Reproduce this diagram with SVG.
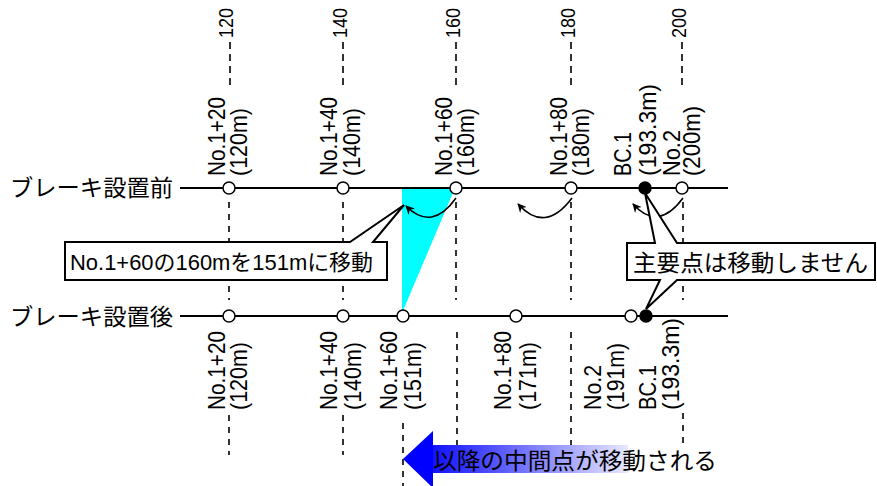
<svg xmlns="http://www.w3.org/2000/svg" width="877" height="486" viewBox="0 0 877 486">
<defs>
<style>
.ln{stroke:#000;stroke-width:2;fill:none}
.dash{stroke:#000;stroke-width:1.6;stroke-dasharray:7 5;fill:none}
.dm{stroke:#000;stroke-width:1.6;stroke-dasharray:6 6;fill:none}
.st{fill:#fff;stroke:#000;stroke-width:1.5}
.key{fill:#000;stroke:#000;stroke-width:1.5}
.rt{font-family:"Liberation Sans",sans-serif;font-size:24px;fill:#000}
.num{font-family:"Liberation Sans",sans-serif;font-size:21px;fill:#000}
.jp{font-family:"Liberation Sans","Noto Sans CJK JP",sans-serif;fill:#000}
.cv{stroke:#000;stroke-width:1.6;fill:none;marker-end:url(#ah)}
.co{fill:#fff;stroke:#000;stroke-width:2}
</style>
<marker id="ah" viewBox="0 0 10 10" refX="9" refY="5" markerWidth="9" markerHeight="9" markerUnits="userSpaceOnUse" orient="auto">
<path d="M0,0 L10,5 L0,10 L3,5 z" fill="#000"/>
</marker>
<linearGradient id="bg" x1="0" y1="0" x2="1" y2="0">
<stop offset="0" stop-color="#1010ff"/>
<stop offset="0.45" stop-color="#7070ff"/>
<stop offset="1" stop-color="#e8e8ff"/>
</linearGradient>
</defs>
<rect width="877" height="486" fill="#fff"/>

<polygon points="402,188 455,188 402,313" fill="#00ffff"/>

<g id="connectors">
<line class="ln" x1="180" y1="188" x2="728" y2="188"/>
<line class="ln" x1="180" y1="316" x2="728" y2="316"/>
<line class="dash" x1="230" y1="42" x2="230" y2="87"/>
<line class="dash" x1="343" y1="42" x2="343" y2="87"/>
<line class="dash" x1="456" y1="42" x2="456" y2="87"/>
<line class="dash" x1="571" y1="42" x2="571" y2="87"/>
<line class="dash" x1="682" y1="42" x2="682" y2="87"/>
<line class="dm" x1="229" y1="202" x2="229" y2="300"/>
<line class="dm" x1="343" y1="202" x2="343" y2="300"/>
<line class="dm" x1="456" y1="202" x2="456" y2="300"/>
<line class="dm" x1="571" y1="202" x2="571" y2="300"/>
<line class="dm" x1="683" y1="202" x2="683" y2="300"/>
<line class="dm" x1="229" y1="415" x2="229" y2="455"/>
<line class="dm" x1="343" y1="415" x2="343" y2="455"/>
<line class="dm" x1="403" y1="423" x2="403" y2="486"/>
<line class="dm" x1="457" y1="332" x2="457" y2="445"/>
<line class="dm" x1="571" y1="332" x2="571" y2="445"/>
<line class="dm" x1="683" y1="413" x2="683" y2="445"/>
<path class="cv" d="M456,198 Q432,232 406,206"/>
<path class="cv" d="M572,198 Q545,234 518,204"/>
<path class="cv" d="M683,198 Q658,232 633,204"/>
</g>

<g id="stations-before">
<circle class="st" cx="229" cy="188" r="6"/>
<circle class="st" cx="343" cy="188" r="6"/>
<circle class="st" cx="456" cy="188" r="6"/>
<circle class="st" cx="571" cy="188" r="6"/>
<circle class="key" cx="645" cy="188" r="6"/>
<circle class="st" cx="682" cy="188" r="6"/>
</g>
<g id="stations-after">
<circle class="st" cx="229" cy="316" r="6"/>
<circle class="st" cx="343" cy="316" r="6"/>
<circle class="st" cx="403" cy="316" r="6"/>
<circle class="st" cx="516" cy="316" r="6"/>
<circle class="st" cx="631" cy="316" r="6"/>
<circle class="key" cx="646" cy="316" r="6"/>
</g>

<g id="line-labels">
<text class="jp" x="10" y="196" font-size="23" textLength="163" lengthAdjust="spacingAndGlyphs">ブレーキ設置前</text>
<text class="jp" x="10" y="325" font-size="23" textLength="163" lengthAdjust="spacingAndGlyphs">ブレーキ設置後</text>
</g>

<g id="top-numbers" class="num">
<text transform="translate(233,38) rotate(-90)" textLength="30" lengthAdjust="spacingAndGlyphs">120</text>
<text transform="translate(347,38) rotate(-90)" textLength="30" lengthAdjust="spacingAndGlyphs">140</text>
<text transform="translate(460,38) rotate(-90)" textLength="30" lengthAdjust="spacingAndGlyphs">160</text>
<text transform="translate(575,38) rotate(-90)" textLength="30" lengthAdjust="spacingAndGlyphs">180</text>
<text transform="translate(686,38) rotate(-90)" textLength="30" lengthAdjust="spacingAndGlyphs">200</text>
</g>

<g id="top-labels" class="rt">
<text transform="translate(225,176) rotate(-90)" textLength="79" lengthAdjust="spacingAndGlyphs">No.1+20</text>
<text transform="translate(247,176) rotate(-90)" textLength="68" lengthAdjust="spacingAndGlyphs">(120m)</text>
<text transform="translate(337,176) rotate(-90)" textLength="79" lengthAdjust="spacingAndGlyphs">No.1+40</text>
<text transform="translate(360,176) rotate(-90)" textLength="68" lengthAdjust="spacingAndGlyphs">(140m)</text>
<text transform="translate(452,176) rotate(-90)" textLength="79" lengthAdjust="spacingAndGlyphs">No.1+60</text>
<text transform="translate(474,176) rotate(-90)" textLength="68" lengthAdjust="spacingAndGlyphs">(160m)</text>
<text transform="translate(567,176) rotate(-90)" textLength="79" lengthAdjust="spacingAndGlyphs">No.1+80</text>
<text transform="translate(589,176) rotate(-90)" textLength="68" lengthAdjust="spacingAndGlyphs">(180m)</text>
<text transform="translate(631,176) rotate(-90)" textLength="44" lengthAdjust="spacingAndGlyphs">BC.1</text>
<text transform="translate(656,176) rotate(-90)" textLength="92" lengthAdjust="spacingAndGlyphs">(193.3m)</text>
<text transform="translate(680,176) rotate(-90)" textLength="46" lengthAdjust="spacingAndGlyphs">No.2</text>
<text transform="translate(700,176) rotate(-90)" textLength="70" lengthAdjust="spacingAndGlyphs">(200m)</text>
</g>

<g id="bottom-labels" class="rt">
<text transform="translate(225,410) rotate(-90)" textLength="79" lengthAdjust="spacingAndGlyphs">No.1+20</text>
<text transform="translate(247,410) rotate(-90)" textLength="68" lengthAdjust="spacingAndGlyphs">(120m)</text>
<text transform="translate(337,410) rotate(-90)" textLength="79" lengthAdjust="spacingAndGlyphs">No.1+40</text>
<text transform="translate(361,410) rotate(-90)" textLength="68" lengthAdjust="spacingAndGlyphs">(140m)</text>
<text transform="translate(397,410) rotate(-90)" textLength="79" lengthAdjust="spacingAndGlyphs">No.1+60</text>
<text transform="translate(421,410) rotate(-90)" textLength="68" lengthAdjust="spacingAndGlyphs">(151m)</text>
<text transform="translate(511,410) rotate(-90)" textLength="79" lengthAdjust="spacingAndGlyphs">No.1+80</text>
<text transform="translate(536,410) rotate(-90)" textLength="68" lengthAdjust="spacingAndGlyphs">(171m)</text>
<text transform="translate(601,410) rotate(-90)" textLength="45" lengthAdjust="spacingAndGlyphs">No.2</text>
<text transform="translate(624,410) rotate(-90)" textLength="67" lengthAdjust="spacingAndGlyphs">(191m)</text>
<text transform="translate(656,410) rotate(-90)" textLength="45" lengthAdjust="spacingAndGlyphs">BC.1</text>
<text transform="translate(679,410) rotate(-90)" textLength="92" lengthAdjust="spacingAndGlyphs">(193.3m)</text>
</g>

<g id="callout-move">
<path class="co" d="M65,242 H350 L404,205 L373,242 H387 V280 H65 Z"/>
<text class="jp" x="70" y="270" font-size="22" textLength="303" lengthAdjust="spacingAndGlyphs">No.1+60の160mを151mに移動</text>
</g>

<g id="callout-key">
<path class="co" d="M627,243 H655 L645,193 L677,243 H875 V280 H677 L646,309 L660,280 H627 Z"/>
<text class="jp" x="633" y="271" font-size="23" textLength="235" lengthAdjust="spacingAndGlyphs">主要点は移動しません</text>
</g>

<g id="shift-arrow">
<rect x="432" y="445" width="196" height="28" fill="url(#bg)"/>
<polygon points="403,459 433,431 433,488" fill="#0000ff"/>
<text class="jp" x="433" y="469" font-size="23" textLength="284" lengthAdjust="spacingAndGlyphs">以降の中間点が移動される</text>
</g>
</svg>
